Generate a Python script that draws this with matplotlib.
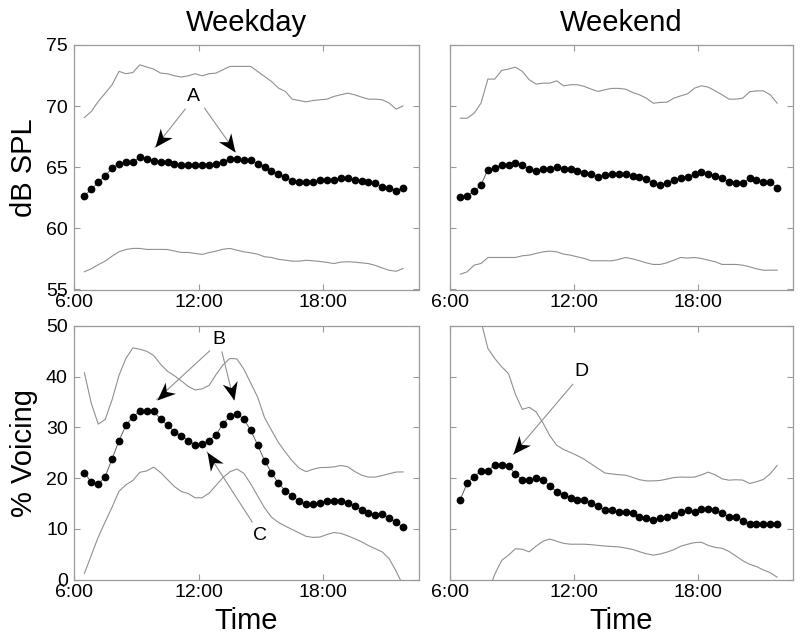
import numpy as np
import matplotlib
matplotlib.use("Agg")
import matplotlib.pyplot as plt
from matplotlib.path import Path
from matplotlib.markers import MarkerStyle
from matplotlib.transforms import Affine2D

plt.rcParams['font.family'] = ['Liberation Sans', 'DejaVu Sans']

# time of day (hours), one sample every 20 minutes
t_start = 6.5
t_step = 1 / 3
n_pts = 47
times = t_start + t_step * np.arange(n_pts)

# weekday level (dB SPL): median, upper and lower bound
wd_db_med = [62.67, 63.2, 63.77, 64.31, 64.92, 65.3, 65.41, 65.41, 65.82, 65.68, 65.54, 65.41,
             65.41, 65.27, 65.16, 65.16, 65.16, 65.16, 65.16, 65.3, 65.43, 65.71, 65.71, 65.6,
             65.57, 65.27, 65.05, 64.7, 64.43, 64.18, 63.9, 63.8, 63.8, 63.8, 63.96, 63.96,
             63.96, 64.1, 64.1, 63.96, 63.88, 63.77, 63.69, 63.41, 63.33, 63.06, 63.33]
wd_db_hi = [69.07, 69.56, 70.38, 71.06, 71.75, 72.84, 72.65, 72.75, 73.38, 73.2, 73.03, 72.7,
            72.65, 72.48, 72.38, 72.48, 72.65, 72.48, 72.65, 72.7, 72.98, 73.25, 73.25, 73.25,
            73.25, 72.84, 72.43, 72.02, 71.48, 71.2, 70.57, 70.46, 70.35, 70.46, 70.52, 70.57,
            70.79, 70.93, 71.06, 70.93, 70.74, 70.57, 70.57, 70.52, 70.25, 69.75, 70.02]
wd_db_lo = [56.45, 56.70, 57.03, 57.32, 57.73, 58.09, 58.27, 58.36, 58.36, 58.28, 58.28, 58.28,
            58.27, 58.15, 58.03, 58.03, 57.95, 57.87, 58.02, 58.14, 58.29, 58.36, 58.22, 58.08,
            58.0, 57.89, 57.68, 57.62, 57.47, 57.40, 57.32, 57.32, 57.39, 57.35, 57.29, 57.22,
            57.12, 57.24, 57.27, 57.24, 57.18, 57.12, 56.97, 56.76, 56.57, 56.49, 56.72]

# weekend level (dB SPL)
we_db_med = [62.54, 62.67, 63.03, 63.55, 64.81, 64.97, 65.19, 65.19, 65.33, 65.19, 64.83, 64.7,
             64.83, 64.83, 65.05, 64.86, 64.83, 64.7, 64.56, 64.42, 64.2, 64.34, 64.42, 64.42,
             64.42, 64.29, 64.2, 64.07, 63.69, 63.55, 63.69, 63.96, 64.1, 64.23, 64.42, 64.59,
             64.48, 64.29, 64.1, 63.8, 63.69, 63.69, 64.1, 63.96, 63.8, 63.8, 63.33]
we_db_hi = [69.01, 69.01, 69.42, 70.24, 72.21, 72.21, 72.92, 73.03, 73.19, 72.84, 72.16, 71.8,
            71.88, 71.88, 72.07, 71.66, 71.75, 71.75, 71.61, 71.39, 71.2, 71.34, 71.45, 71.45,
            71.39, 71.12, 70.93, 70.65, 70.24, 70.3, 70.32, 70.65, 70.84, 71.01, 71.47, 71.66,
            71.55, 71.25, 70.93, 70.57, 70.57, 70.65, 71.17, 71.25, 71.25, 70.93, 70.24]
we_db_lo = [56.25, 56.45, 56.99, 57.13, 57.62, 57.62, 57.62, 57.62, 57.62, 57.76, 57.81, 57.95,
            58.08, 58.14, 58.08, 57.89, 57.81, 57.67, 57.54, 57.35, 57.35, 57.35, 57.35, 57.46,
            57.62, 57.51, 57.35, 57.18, 57.05, 57.05, 57.18, 57.40, 57.62, 57.57, 57.62, 57.54,
            57.40, 57.27, 57.05, 57.05, 57.05, 56.99, 56.86, 56.69, 56.58, 56.58, 56.58]

# weekday voicing (%)
wd_voc_med = [21.09, 19.18, 18.79, 20.30, 23.78, 27.40, 30.42, 32.13, 33.18, 33.18, 33.18, 31.60,
              30.42, 29.17, 28.32, 27.40, 26.54, 26.81, 27.40, 28.58, 30.68, 32.20, 32.72, 31.60,
              29.50, 26.54, 23.46, 21.09, 18.99, 17.54, 16.49, 15.44, 14.85, 14.85, 15.18, 15.44,
              15.44, 15.44, 15.11, 14.52, 13.66, 13.07, 12.74, 12.94, 12.15, 11.30, 10.31]
wd_voc_hi = [40.77, 34.73, 30.65, 31.57, 35.46, 40.28, 43.62, 45.69, 45.42, 45.01, 44.18, 42.45,
             41.07, 40.19, 39.16, 38.06, 37.38, 37.61, 38.28, 40.41, 42.32, 43.59, 43.52, 41.53,
             38.77, 36.01, 31.94, 29.46, 27.04, 25.14, 23.39, 21.97, 21.27, 21.74, 22.08, 22.10,
             22.21, 22.49, 22.26, 21.32, 20.59, 20.19, 20.20, 20.51, 20.86, 21.20, 21.22]
wd_voc_lo = [1.19, 4.78, 8.37, 11.36, 14.28, 17.41, 18.69, 19.53, 21.14, 21.42, 22.16, 21.09,
             19.71, 18.33, 17.35, 16.95, 16.11, 16.14, 17.03, 18.55, 20.10, 21.25, 21.80, 20.97,
             18.89, 16.49, 14.15, 12.31, 11.26, 10.54, 9.85, 9.19, 8.51, 8.31, 8.37, 8.87,
             9.26, 9.11, 8.62, 8.06, 7.44, 6.70, 6.07, 5.43, 4.09, 1.64, -1.2]

# weekend voicing (%)
we_voc_med = [15.77, 19.05, 20.30, 21.42, 21.42, 22.67, 22.67, 22.34, 20.83, 19.58, 19.58, 20.04,
              19.71, 18.46, 17.28, 16.62, 16.16, 15.77, 15.77, 15.11, 14.52, 13.66, 13.66, 13.40,
              13.40, 13.07, 12.42, 12.15, 11.82, 12.15, 12.42, 12.74, 13.33, 13.66, 13.33, 13.93,
              13.93, 13.66, 13.07, 12.42, 12.42, 11.56, 10.97, 10.97, 10.97, 10.97, 10.97]
we_voc_hi = [66.0, 61.0, 56.0, 50.92, 45.57, 43.59, 41.96, 40.59, 36.51, 33.56, 33.96, 33.06,
             30.88, 28.34, 26.46, 25.64, 25.05, 24.42, 23.70, 22.79, 21.89, 21.00, 20.82, 20.67,
             20.57, 20.15, 19.69, 19.45, 19.45, 19.54, 19.80, 20.11, 20.20, 20.17, 20.19, 20.63,
             21.17, 20.64, 19.86, 19.59, 19.68, 19.61, 18.94, 19.29, 19.73, 20.87, 22.50]
we_voc_lo = [-16.0, -12.0, -8.0, -5.0, -2.7, 1.04, 3.76, 4.81, 6.07, 5.97, 5.46, 6.59,
             7.55, 7.98, 7.54, 7.13, 6.96, 6.96, 6.96, 6.87, 6.73, 6.60, 6.51, 6.44,
             6.20, 5.93, 5.48, 5.09, 4.80, 5.03, 5.40, 5.89, 6.56, 6.95, 7.28, 7.35,
             6.72, 6.34, 6.16, 5.55, 4.63, 3.71, 3.01, 2.55, 1.89, 1.34, 0.46]

x_ticks = [6, 12, 18]
x_labels = ['6:00', '12:00', '18:00']
db_ticks = [55, 60, 65, 70, 75]
voc_ticks = [0, 10, 20, 30, 40, 50]

SPINE = '#9a9a9a'
BAND = '#909090'
W, H = 800, 643

fig = plt.figure(figsize=(8, 6.43), dpi=100)


def make_ax(left, top, right, bottom):
    return fig.add_axes([left / W, 1 - bottom / H, (right - left) / W, (bottom - top) / H])


ax_tl = make_ax(74, 45, 419, 289.5)
ax_tr = make_ax(450, 45, 793, 289.5)
ax_bl = make_ax(74, 326, 419, 579.5)
ax_br = make_ax(450, 326, 793, 579.5)


def draw(ax, med, hi, lo, ylim, yticks, show_ylab):
    ax.plot(times, hi, color=BAND, lw=0.8)
    ax.plot(times, lo, color=BAND, lw=0.8)
    ax.plot(times, med, color='#606060', lw=0.7)
    ax.plot(times, med, 'o', color='black', ms=5.6, mew=0)
    ax.set_xlim(6, 22.6)
    ax.set_ylim(*ylim)
    ax.set_xticks(x_ticks)
    ax.set_xticklabels(x_labels)
    ax.set_yticks(yticks)
    if not show_ylab:
        ax.set_yticklabels([])
    for s in ax.spines.values():
        s.set_color(SPINE)
        s.set_linewidth(0.9)
    ax.tick_params(direction='in', top=True, right=True, length=4, width=0.8,
                   color=SPINE, labelsize=14)
    ax.tick_params(axis='x', pad=3.5)
    ax.tick_params(axis='y', pad=4.5)


draw(ax_tl, wd_db_med, wd_db_hi, wd_db_lo, (55, 75), db_ticks, True)
draw(ax_tr, we_db_med, we_db_hi, we_db_lo, (55, 75), db_ticks, False)
draw(ax_bl, wd_voc_med, wd_voc_hi, wd_voc_lo, (0, 50), voc_ticks, True)
draw(ax_br, we_voc_med, we_voc_hi, we_voc_lo, (0, 50), voc_ticks, False)

ax_tl.set_title('Weekday', fontsize=21, pad=10)
ax_tr.set_title('Weekend', fontsize=21, pad=10)
ax_tl.set_ylabel('dB SPL', fontsize=21, labelpad=6)
ax_bl.set_ylabel('% Voicing', fontsize=21, labelpad=6)
ax_bl.set_xlabel('Time', fontsize=21, labelpad=4)
ax_br.set_xlabel('Time', fontsize=21, labelpad=4)

# stealth-style arrow head, tip at origin pointing along +x
head = Path([(0, 0), (-1, 0.42), (-0.7, 0), (-1, -0.42), (0, 0)],
            [Path.MOVETO, Path.LINETO, Path.LINETO, Path.LINETO, Path.CLOSEPOLY])


def arrow(ax, tail, tip):
    ax.plot([tail[0], tip[0]], [tail[1], tip[1]], color=BAND, lw=0.8)
    p0 = ax.transData.transform(tail)
    p1 = ax.transData.transform(tip)
    ang = np.degrees(np.arctan2(p1[1] - p0[1], p1[0] - p0[0]))
    m = MarkerStyle(head, transform=Affine2D().rotate_deg(ang))
    ax.plot([tip[0]], [tip[1]], marker=m, ms=26, color='black', mew=0, zorder=5)


ax_tl.text(11.75, 70.8, 'A', fontsize=14, ha='center', va='center')
arrow(ax_tl, (11.35, 69.75), (9.9, 66.64))
arrow(ax_tl, (12.28, 69.84), (13.76, 66.28))

ax_bl.text(12.97, 47.3, 'B', fontsize=14, ha='center', va='center')
arrow(ax_bl, (12.52, 45.07), (9.98, 35.49))
arrow(ax_bl, (13.12, 44.87), (13.68, 35.49))
ax_bl.text(14.97, 8.7, 'C', fontsize=14, ha='center', va='center')
arrow(ax_bl, (14.57, 11.36), (12.40, 25.16))

ax_br.text(12.34, 41.1, 'D', fontsize=14, ha='center', va='center')
arrow(ax_br, (11.94, 38.5), (9.06, 24.7))

fig.savefig('out.png', dpi=100)
